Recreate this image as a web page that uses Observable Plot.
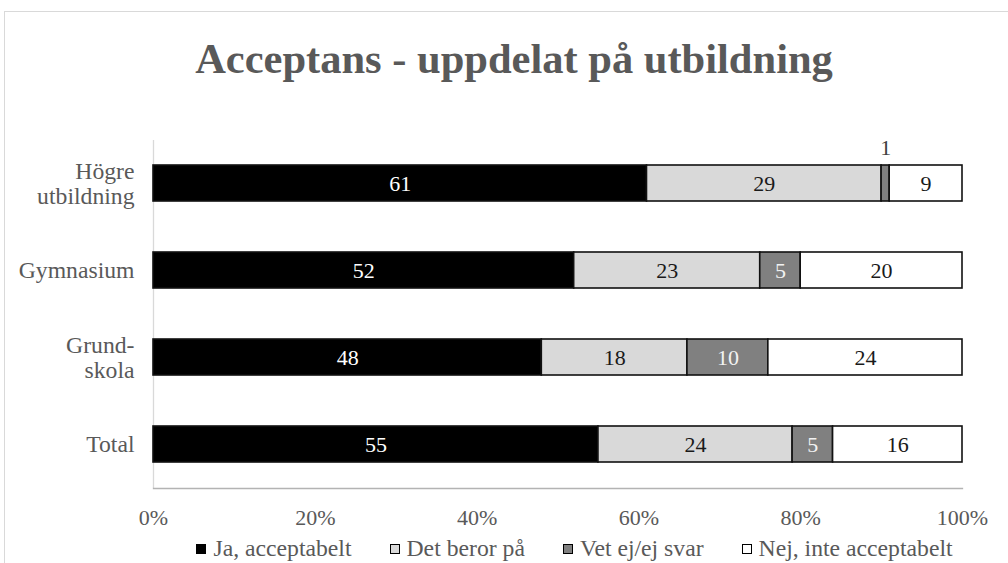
<!DOCTYPE html>
<html>
<head>
<meta charset="utf-8">
<script src="https://cdn.jsdelivr.net/npm/d3@7"></script>
<script src="https://cdn.jsdelivr.net/npm/@observablehq/plot@0.6"></script>
<style>
  html, body { margin: 0; padding: 0; background: #fff; overflow: hidden; }
  #wrap { position: relative; width: 1008px; height: 563px; overflow: hidden; font-family: "Liberation Serif", "Times New Roman", serif; }
  #border { position: absolute; left: 4px; top: 11px; width: 1100px; height: 700px; border: 1px solid #d9d9d9; box-sizing: border-box; }
  #title { position: absolute; left: 0; top: 38px; width: 1028px; text-align: center; font-size: 42.5px; line-height: 42px; font-weight: bold; color: #595959; white-space: nowrap; }
  #chart { position: absolute; left: 0; top: 100px; }
  #legend { position: absolute; left: 0; top: 535px; width: 1149px; display: flex; justify-content: center; gap: 38px; font-size: 23.7px; line-height: 26px; color: #595959; white-space: nowrap; }
  .item { display: flex; align-items: center; }
  .sw { width: 8px; height: 8px; border: 1.6px solid #000; margin-right: 7px; margin-top: 1px; }
</style>
</head>
<body>
<div id="wrap">
  <div id="border"></div>
  <div id="title">Acceptans - uppdelat på utbildning</div>
  <div id="chart"></div>
  <div id="legend"></div>
</div>
<script>
// ---- Data ----
const categories = ["Högre utbildning", "Gymnasium", "Grundskola", "Total"];
const categoryTickLabels = ["Högre\nutbildning", "Gymnasium", "Grund-\nskola", "Total"];
const series = ["Ja, acceptabelt", "Det beror på", "Vet ej/ej svar", "Nej, inte acceptabelt"];
const jaAcceptabelt = [61, 52, 48, 55];
const detBerorPa = [29, 23, 18, 24];
const vetEj = [1, 5, 10, 5];
const nejInteAcceptabelt = [9, 20, 24, 16];
const xTicks = [0, 20, 40, 60, 80, 100];
const seriesColors = ["#000000", "#d9d9d9", "#808080", "#ffffff"];

// ---- Build table (stacked extents in data units) ----
const seriesValues = [jaAcceptabelt, detBerorPa, vetEj, nejInteAcceptabelt];
const table = [];
categories.forEach((cat, ci) => {
  let acc = 0;
  series.forEach((s, si) => {
    const v = seriesValues[si][ci];
    table.push({cat, series: s, si, value: v, x1: acc, x2: acc + v});
    acc += v;
  });
});
const tickLabelOf = new Map(categories.map((c, i) => [c, categoryTickLabels[i]]));
const mid = d => (d.x1 + d.x2) / 2;
const darkSeg = d => d.si === 0 || d.si === 2;

const plot = Plot.plot({
  width: 1008,
  height: 435,
  marginTop: 40,
  marginBottom: 47,
  marginLeft: 153,
  marginRight: 46,
  style: {fontFamily: "Liberation Serif, Times New Roman, serif", fontSize: "22px", color: "#595959", background: "transparent", overflow: "visible"},
  x: {domain: [0, 100]},
  y: {domain: categories, paddingInner: 0.586, paddingOuter: 0.293},
  color: {domain: series, range: seriesColors},
  marks: [
    Plot.ruleX([0], {stroke: "#d9d9d9", strokeWidth: 1.3}),
    Plot.frame({anchor: "bottom", stroke: "#b3b3b3", strokeWidth: 1.3}),
    Plot.barX(table, {x1: "x1", x2: "x2", y: "cat", fill: "series", stroke: "#111", strokeWidth: 1.6}),
    Plot.text(table, {filter: d => d.value >= 3 && darkSeg(d), x: mid, y: "cat", text: d => String(d.value), fill: d => d.si === 0 ? "#ffffff" : "#f2f2f2", fontSize: 22}),
    Plot.text(table, {filter: d => d.value >= 3 && !darkSeg(d), x: mid, y: "cat", text: d => String(d.value), fill: "#1a1a1a", fontSize: 22}),
    Plot.text(table, {filter: d => d.value < 3, x: mid, y: "cat", text: d => String(d.value), fill: "#404040", fontSize: 22, dy: -36}),
    Plot.axisX({ticks: xTicks, tickFormat: d => d + "%", tickSize: 0, tickPadding: 21, fontSize: 22, fill: "#595959", label: null}),
    Plot.axisY({tickFormat: d => tickLabelOf.get(d), tickSize: 0, tickPadding: 19, fontSize: 23.7, lineHeight: 1.05, fill: "#595959", label: null})
  ]
});
document.getElementById("chart").appendChild(plot);

// ---- Legend ----
const legend = document.getElementById("legend");
series.forEach((s, i) => {
  const item = document.createElement("div");
  item.className = "item";
  const sw = document.createElement("div");
  sw.className = "sw";
  sw.style.background = seriesColors[i];
  const lab = document.createElement("span");
  lab.textContent = s;
  item.appendChild(sw);
  item.appendChild(lab);
  legend.appendChild(item);
});
</script>
</body>
</html>
